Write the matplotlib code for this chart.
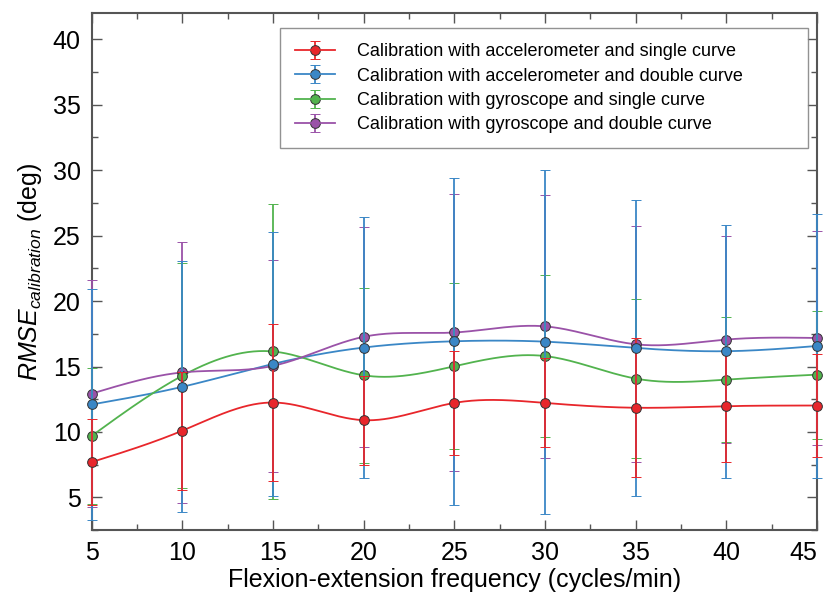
import numpy as np
import matplotlib
matplotlib.use('Agg')
import matplotlib.pyplot as plt
from matplotlib.ticker import MultipleLocator
from matplotlib.legend_handler import HandlerTuple

plt.rcParams['font.family'] = ['Liberation Sans', 'DejaVu Sans']
plt.rcParams['mathtext.fontset'] = 'custom'
plt.rcParams['mathtext.rm'] = 'Liberation Sans'
plt.rcParams['mathtext.it'] = 'Liberation Sans:italic'

freq = [5, 10, 15, 20, 25, 30, 35, 40, 45]

acc_single = [7.7, 10.1, 12.25, 10.9, 12.22, 12.22, 11.85, 11.97, 12.02]
acc_single_sd = [3.3, 4.5, 6.0, 3.4, 4.0, 3.4, 5.3, 4.25, 3.9]

acc_double = [12.1, 13.45, 15.2, 16.45, 16.93, 16.9, 16.42, 16.17, 16.57]
acc_double_sd = [8.85, 9.6, 10.1, 10.0, 12.5, 13.15, 11.3, 9.65, 10.1]

gyr_single = [9.7, 14.3, 16.15, 14.33, 15.02, 15.8, 14.08, 14.0, 14.38]
gyr_single_sd = [5.2, 8.6, 11.3, 6.7, 6.35, 6.2, 6.05, 4.75, 4.9]

gyr_double = [12.93, 14.55, 15.05, 17.27, 17.6, 18.07, 16.7, 17.06, 17.18]
gyr_double_sd = [8.7, 10.0, 8.1, 8.4, 10.55, 10.05, 9.0, 7.9, 8.2]

labels = ['Calibration with accelerometer and single curve',
          'Calibration with accelerometer and double curve',
          'Calibration with gyroscope and single curve',
          'Calibration with gyroscope and double curve']
colors = ['#e8262b', '#3a87c6', '#52b34e', '#9a52a8']


def spline_line(x, y, n=400):
    # natural cubic spline, only used to draw the smooth connecting line
    x = np.asarray(x, float)
    y = np.asarray(y, float)
    h = np.diff(x)
    m = len(x)
    A = np.zeros((m, m))
    b = np.zeros(m)
    A[0, 0] = A[-1, -1] = 1
    for i in range(1, m - 1):
        A[i, i - 1] = h[i - 1]
        A[i, i] = 2 * (h[i - 1] + h[i])
        A[i, i + 1] = h[i]
        b[i] = 6 * ((y[i + 1] - y[i]) / h[i] - (y[i] - y[i - 1]) / h[i - 1])
    M = np.linalg.solve(A, b)
    xs = np.linspace(x[0], x[-1], n)
    k = np.clip(np.searchsorted(x, xs) - 1, 0, m - 2)
    t1 = x[k + 1] - xs
    t0 = xs - x[k]
    hk = h[k]
    ys = (M[k] * t1**3 + M[k + 1] * t0**3) / (6 * hk) \
        + (y[k] / hk - M[k] * hk / 6) * t1 + (y[k + 1] / hk - M[k + 1] * hk / 6) * t0
    return xs, ys


series = [(acc_single, acc_single_sd), (acc_double, acc_double_sd),
          (gyr_single, gyr_single_sd), (gyr_double, gyr_double_sd)]

fig = plt.figure(figsize=(8.26, 5.97), dpi=100)
ax = fig.add_axes([0.111, 0.112, 0.878, 0.866])

handles = [None] * 4
for i in reversed(range(4)):
    mean, sd = series[i]
    xs, ys = spline_line(freq, mean)
    ax.plot(xs, ys, color=colors[i], lw=1.3, zorder=2 + i * 0.01)
    eb = ax.errorbar(freq, mean, yerr=sd, fmt='o', color=colors[i], ecolor=colors[i],
                     elinewidth=1.3, capsize=3.5, capthick=1.2, markersize=7,
                     markerfacecolor=colors[i], markeredgecolor='#333333',
                     markeredgewidth=0.7, clip_on=False, zorder=3 + (3 - i) * 0.1)
    handles[i] = (eb, ax.plot([], [], color=colors[i], lw=1.3)[0])

leg = ax.legend(handles, labels, loc='upper left',
                bbox_to_anchor=(0.259, 0.0, 0.729, 0.971), mode='expand',
                fontsize=13, frameon=True, borderaxespad=0.0,
                fancybox=False, edgecolor='#777777', labelspacing=0.4,
                handlelength=2.2, handletextpad=1.25, borderpad=0.85,
                handler_map={tuple: HandlerTuple(ndivide=1)})
leg.get_frame().set_linewidth(1.0)

ax.set_xlim(5, 45)
ax.set_ylim(2.5, 42)
ax.set_xticks(freq)
ax.xaxis.set_minor_locator(MultipleLocator(2.5))
ax.yaxis.set_minor_locator(MultipleLocator(2.5))
ax.set_yticks([5, 10, 15, 20, 25, 30, 35, 40])
ax.tick_params(which='both', direction='in', top=True, right=True,
               colors='#555555', labelcolor='black', labelsize=18, width=1.0)
ax.tick_params(which='major', length=7, pad=8)
ax.tick_params(which='minor', length=4)
for s in ax.spines.values():
    s.set_color('#555555')
    s.set_linewidth(1.5)

# the last x tick label sits flush with the right edge, as in the source figure
ax.xaxis.get_major_ticks()[-1].label1.set_horizontalalignment('right')

ax.set_xlabel('Flexion-extension frequency (cycles/min)', fontsize=18, labelpad=2)
ax.set_ylabel(r'$\mathit{RMSE}_{\mathit{calibration}}$ (deg)', fontsize=18, labelpad=6)

fig.savefig('out.png', dpi=100)
